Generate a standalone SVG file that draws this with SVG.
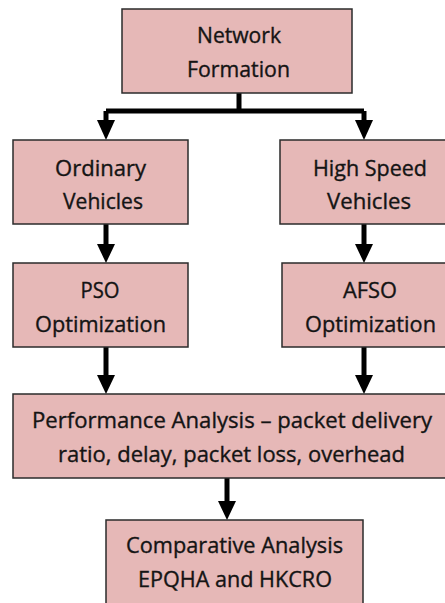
<svg xmlns="http://www.w3.org/2000/svg" width="445" height="603" viewBox="0 0 445 603">
<style>
.box{fill:#E6B8B7;stroke:#2b2b2b;stroke-width:1.5}
.t{font-family:"Open Sans","Noto Sans",sans-serif;font-size:21px;fill:#141414;stroke:#141414;stroke-width:0.35;text-anchor:middle}
.c{fill:none;stroke:#000;stroke-width:5}
.ah{fill:#000}
</style>
<rect width="445" height="603" fill="#fff"/>
<g id="connectors">
<path class="c" d="M239,93 V111"/>
<path class="c" d="M106,111 H364"/>
<path class="c" d="M106,111 V121"/>
<path class="c" d="M364,111 V121"/>
<path class="ah" d="M97,120 H115 L106,140 Z"/>
<path class="ah" d="M355,120 H373 L364,140 Z"/>
<path class="c" d="M106,224 V245"/>
<path class="ah" d="M97,244 H115 L106,263 Z"/>
<path class="c" d="M364,224 V245"/>
<path class="ah" d="M355,244 H373 L364,263 Z"/>
<path class="c" d="M106,347 V376"/>
<path class="ah" d="M97,375 H115 L106,394 Z"/>
<path class="c" d="M364,347 V376"/>
<path class="ah" d="M355,375 H373 L364,394 Z"/>
<path class="c" d="M227,478 V502"/>
<path class="ah" d="M218,501 H236 L227,520 Z"/>
</g>
<g id="network-formation">
<rect class="box" x="122" y="9" width="230" height="84"/>
<text class="t" x="239" y="43" textLength="84" lengthAdjust="spacingAndGlyphs">Network</text>
<text class="t" x="238.5" y="77" textLength="103" lengthAdjust="spacingAndGlyphs">Formation</text>
</g>
<g id="ordinary-vehicles">
<rect class="box" x="13" y="140" width="175" height="84"/>
<text class="t" x="100.5" y="176" textLength="91" lengthAdjust="spacingAndGlyphs">Ordinary</text>
<text class="t" x="103" y="209" textLength="80" lengthAdjust="spacingAndGlyphs">Vehicles</text>
</g>
<g id="high-speed-vehicles">
<rect class="box" x="280" y="140" width="180" height="84"/>
<text class="t" x="370" y="176" textLength="114" lengthAdjust="spacingAndGlyphs">High Speed</text>
<text class="t" x="369" y="209" textLength="84" lengthAdjust="spacingAndGlyphs">Vehicles</text>
</g>
<g id="pso-optimization">
<rect class="box" x="13" y="263" width="175" height="84"/>
<text class="t" x="100" y="298" textLength="39" lengthAdjust="spacingAndGlyphs">PSO</text>
<text class="t" x="100.5" y="332" textLength="131" lengthAdjust="spacingAndGlyphs">Optimization</text>
</g>
<g id="afso-optimization">
<rect class="box" x="282" y="263" width="180" height="84"/>
<text class="t" x="370" y="298" textLength="54" lengthAdjust="spacingAndGlyphs">AFSO</text>
<text class="t" x="370.5" y="332" textLength="131" lengthAdjust="spacingAndGlyphs">Optimization</text>
</g>
<g id="performance-analysis">
<rect class="box" x="13" y="394" width="445" height="84"/>
<text class="t" x="232" y="428" textLength="400" lengthAdjust="spacingAndGlyphs">Performance Analysis – packet delivery</text>
<text class="t" x="231.5" y="462" textLength="347" lengthAdjust="spacingAndGlyphs">ratio, delay, packet loss, overhead</text>
</g>
<g id="comparative-analysis">
<rect class="box" x="106" y="520" width="257" height="100"/>
<text class="t" x="234.5" y="553" textLength="217" lengthAdjust="spacingAndGlyphs">Comparative Analysis</text>
<text class="t" x="235" y="587" textLength="194" lengthAdjust="spacingAndGlyphs">EPQHA and HKCRO</text>
</g>
</svg>
